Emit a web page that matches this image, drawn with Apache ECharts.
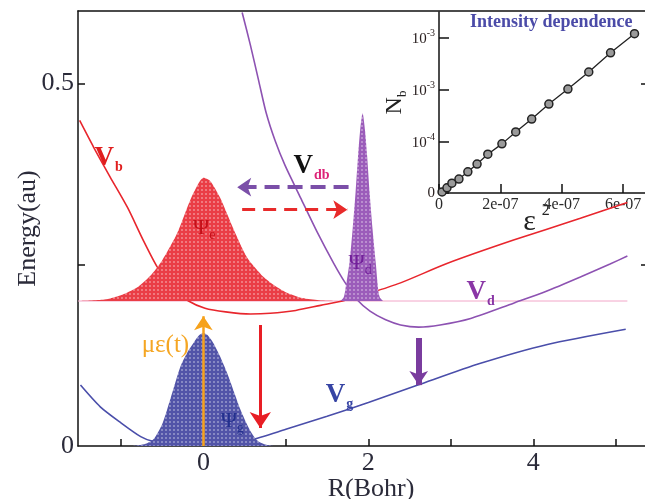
<!DOCTYPE html>
<html>
<head>
<meta charset="utf-8">
<script src="https://cdn.jsdelivr.net/npm/echarts@6/dist/echarts.min.js"></script>
<style>
  html, body { margin: 0; padding: 0; background: #fff; }
  #chart { width: 645px; height: 499px; }
</style>
</head>
<body>
<div id="chart"></div>
<script>
const FONT = 'Liberation Serif'
const INK = '#2b2b3a'

// potential curves, [R (Bohr), E (au)]
const vb = [[-1.50, 0.449], [-1.33, 0.412], [-1.13, 0.371], [-0.92, 0.329], [-0.73, 0.284], [-0.56, 0.247],
  [-0.38, 0.218], [-0.18, 0.200], [0.02, 0.190], [0.27, 0.185], [0.57, 0.182], [0.81, 0.183], [1.12, 0.187],
  [1.42, 0.194], [1.72, 0.201], [2.02, 0.211], [2.39, 0.225], [2.96, 0.252], [3.76, 0.284], [4.57, 0.314], [5.14, 0.336]]
const vd = [[0.47, 0.598], [0.57, 0.553], [0.67, 0.504], [0.76, 0.460], [0.87, 0.421], [0.99, 0.387],
  [1.18, 0.342], [1.38, 0.295], [1.58, 0.252], [1.72, 0.225], [1.87, 0.201], [2.02, 0.186], [2.21, 0.174],
  [2.39, 0.167], [2.61, 0.164], [2.87, 0.167], [3.24, 0.176], [3.76, 0.197], [4.15, 0.213], [4.57, 0.233],
  [4.93, 0.251], [5.14, 0.262]]
const vg = [[-1.49, 0.084], [-1.25, 0.054], [-1.00, 0.032], [-0.76, 0.013], [-0.60, 0.006], [-0.30, 0.002],
  [0.00, 0.001], [0.30, 0.003], [0.57, 0.008], [1.00, 0.023], [1.50, 0.041], [2.00, 0.060], [2.60, 0.084],
  [3.36, 0.114], [4.17, 0.140], [5.12, 0.161]]
const level = [[-1.52, 0.2], [5.14, 0.2]]

// wave packets
const psiE = [[-1.50, 0.200], [-1.20, 0.202], [-1.00, 0.208], [-0.80, 0.219], [-0.65, 0.234], [-0.50, 0.256],
  [-0.32, 0.293], [-0.16, 0.339], [-0.06, 0.362], [0.00, 0.370], [0.08, 0.366], [0.20, 0.343], [0.37, 0.298],
  [0.53, 0.260], [0.73, 0.233], [0.88, 0.220], [1.02, 0.211], [1.20, 0.204], [1.40, 0.201], [1.60, 0.200]]
const psiD = [[1.66, 0.200], [1.70, 0.205], [1.72, 0.215], [1.77, 0.252], [1.81, 0.300], [1.845, 0.350],
  [1.875, 0.400], [1.90, 0.435], [1.93, 0.459], [1.96, 0.435], [1.985, 0.400], [2.015, 0.350], [2.05, 0.300],
  [2.09, 0.252], [2.12, 0.215], [2.14, 0.205], [2.18, 0.200]]
const psiG = [[-0.85, 0.000], [-0.70, 0.003], [-0.60, 0.010], [-0.50, 0.030], [-0.44, 0.050], [-0.36, 0.080],
  [-0.28, 0.109], [-0.20, 0.128], [-0.12, 0.142], [-0.05, 0.153], [0.00, 0.156], [0.05, 0.153], [0.12, 0.142],
  [0.20, 0.124], [0.29, 0.100], [0.37, 0.075], [0.45, 0.050], [0.55, 0.025], [0.65, 0.008], [0.75, 0.002], [0.85, 0.000]]

// transitions
const pump = [[0, 0], [0, 0.179]]
const dumpB = [[0.69, 0.167], [0.69, 0.025]]
const dumpD = [[2.61, 0.149], [2.61, 0.084]]
const couplingDB = [[1.76, 0.357], [0.41, 0.357]]
const couplingBD = [[0.47, 0.326], [1.745, 0.326]]

const xTicks = [-1, 0, 1, 2, 3, 4, 5]
const xLabels = [0, 2, 4]
const yTicks = [0.25, 0.5]
const yLabels = [0, 0.5]

// inset: N_b against eps^2
const insetX = [1.0e-8, 2.6e-8, 4.2e-8, 6.5e-8, 9.4e-8, 1.24e-7, 1.59e-7, 2.05e-7, 2.50e-7, 3.02e-7,
  3.58e-7, 4.20e-7, 4.88e-7, 5.59e-7, 6.37e-7]
const insetY = [0.02, 0.10, 0.19, 0.27, 0.41, 0.56, 0.75, 0.95, 1.18, 1.43, 1.72, 2.01, 2.34, 2.71, 3.08]
const insetXTicks = [0, 2e-7, 4e-7, 6e-7]
const insetXLabels = ['0', '2e-07', '4e-07', '6e-07']
const insetYTicks = [0, 1, 2, 3]
const insetYLabels = ['0', '{m|10}{p|-4}', '{m|10}{p|-3}', '{m|10}{p|-3}']

// label anchors in data space
const notes = [
  { at: [-1.15, 0.397], big: 'V', small: 'b', c1: '#e01e1e', c2: '#e01e1e', kind: 'v' },
  { at: [1.31, 0.386], big: 'V', small: 'db', c1: '#111', c2: '#dd2277', kind: 'v' },
  { at: [3.36, 0.212], big: 'V', small: 'd', c1: '#8a36a6', c2: '#8a36a6', kind: 'v' },
  { at: [1.65, 0.070], big: 'V', small: 'g', c1: '#3644a4', c2: '#3644a4', kind: 'v' },
  { at: [0.01, 0.300], big: 'Ψ', small: 'e', c1: '#c40f18', c2: '#c40f18', kind: 'p' },
  { at: [1.90, 0.252], big: 'Ψ', small: 'd', c1: '#72209a', c2: '#72209a', kind: 'p' },
  { at: [0.35, 0.034], big: 'Ψ', small: 'g', c1: '#23308e', c2: '#23308e', kind: 'p' },
  { at: [-0.46, 0.139], big: 'με(t)', small: '', c1: '#f5a623', c2: '#f5a623', kind: 'm' }
]

function dots(color) {
  const c = document.createElement('canvas')
  c.width = 4
  c.height = 4
  const g = c.getContext('2d')
  g.fillStyle = color
  g.fillRect(0, 0, 4, 4)
  g.fillStyle = 'rgba(255,255,255,0.7)'
  g.beginPath()
  g.arc(2, 2, 0.8, 0, Math.PI * 2)
  g.fill()
  return { image: c, repeat: 'repeat' }
}

function curve(data, color) {
  return { type: 'line', data, symbol: 'none', smooth: 0.25, z: 2,
    lineStyle: { color, width: 1.6 } }
}

function packet(data, color, origin) {
  return { type: 'line', data, symbol: 'none', smooth: 0.25, z: 3,
    lineStyle: { width: 0 }, areaStyle: { color: dots(color), origin, opacity: 1 } }
}

function arrow(coords, color, width, head, dash) {
  return { type: 'lines', coordinateSystem: 'cartesian2d', z: 6,
    symbol: ['none', 'arrow'], symbolSize: head,
    lineStyle: { color, width, type: dash || 'solid', opacity: 1 },
    data: [{ coords }] }
}

function noteLabel(n) {
  const rich = n.kind === 'v' ? {
    a: { fontFamily: FONT, fontWeight: 'bold', fontSize: 27, lineHeight: 28, color: n.c1, verticalAlign: 'top' },
    b: { fontFamily: FONT, fontWeight: 'bold', fontSize: 14, lineHeight: 14, color: n.c2, verticalAlign: 'top', padding: [16, 0, 0, 1] }
  } : n.kind === 'p' ? {
    a: { fontFamily: FONT, fontSize: 22, lineHeight: 22, color: n.c1, verticalAlign: 'top' },
    b: { fontFamily: FONT, fontSize: 14, lineHeight: 14, color: n.c2, verticalAlign: 'top', padding: [11, 0, 0, 0] }
  } : {
    a: { fontFamily: FONT, fontSize: 25, lineHeight: 26, color: n.c1 },
    b: { fontSize: 1 }
  }
  return { show: true, position: 'inside', opacity: 1,
    formatter: n.small ? `{a|${n.big}}{b|${n.small}}` : `{a|${n.big}}`, rich }
}

const chart = echarts.init(document.getElementById('chart'))

const frame = { color: '#111', width: 1.5 }

chart.setOption({
  animation: false,
  backgroundColor: '#fff',
  title: {
    text: 'Intensity dependence', left: 470, top: 13, padding: 0,
    textStyle: { fontFamily: FONT, fontWeight: 'bold', fontSize: 18, color: '#4b4ba8' }
  },
  grid: [
    { left: 78, right: -3, top: 11, bottom: 53, outerBoundsMode: 'none', containLabel: false },
    { left: 439, right: -3, top: 12, bottom: 306, outerBoundsMode: 'none', containLabel: false }
  ],
  xAxis: [
    {
      gridIndex: 0, type: 'value', min: -1.52, max: 5.39, position: 'bottom',
      axisLine: { onZero: false, lineStyle: frame },
      axisTick: { inside: true, length: 7, customValues: xTicks, lineStyle: frame },
      axisLabel: { customValues: xLabels, margin: 4, fontFamily: FONT, fontSize: 26, color: INK },
      splitLine: { show: false },
      name: 'R(Bohr)', nameLocation: 'middle', nameGap: 30, nameMoveOverlap: false,
      nameTextStyle: { fontFamily: FONT, fontSize: 26, color: INK, padding: [0, 0, 0, 16] }
    },
    {
      gridIndex: 0, type: 'value', min: -1.52, max: 5.39, position: 'top',
      axisLine: { onZero: false, lineStyle: frame },
      axisTick: { show: false }, axisLabel: { show: false }, splitLine: { show: false }
    },
    {
      gridIndex: 1, type: 'value', min: 0, max: 6.81e-7,
      axisLine: { onZero: false, lineStyle: frame },
      axisTick: { inside: true, length: 9, customValues: insetXTicks, lineStyle: frame },
      axisLabel: {
        customValues: insetXTicks, margin: 4, fontFamily: FONT, fontSize: 16, color: '#2a2a2a',
        formatter: (v) => insetXLabels[insetXTicks.findIndex((t) => Math.abs(t - v) < 1e-9)]
      },
      splitLine: { show: false },
      name: '{e|ε}{s|2}', nameLocation: 'middle', nameGap: 10, nameMoveOverlap: false,
      nameTextStyle: {
        padding: [0, 14, 0, 0],
        rich: {
          e: { fontFamily: FONT, fontSize: 30, lineHeight: 30, color: '#222', verticalAlign: 'top', padding: [4, 0, 0, 0] },
          s: { fontFamily: FONT, fontSize: 16, lineHeight: 16, color: '#222', verticalAlign: 'top', padding: [0, 0, 0, 6] }
        }
      }
    }
  ],
  yAxis: [
    {
      gridIndex: 0, type: 'value', min: 0, max: 0.6,
      axisLine: { show: true, onZero: false, lineStyle: frame },
      axisTick: { show: true, inside: true, length: 7, customValues: yTicks, lineStyle: frame },
      axisLabel: { customValues: yLabels, margin: 4, fontFamily: FONT, fontSize: 26, color: INK },
      splitLine: { show: false },
      name: 'Energy(au)', nameLocation: 'middle', nameGap: 37, nameMoveOverlap: false,
      nameTextStyle: { fontFamily: FONT, fontSize: 26, color: INK }
    },
    {
      gridIndex: 0, type: 'value', min: 0, max: 0.6, position: 'right',
      axisLine: { show: true, onZero: false, lineStyle: frame },
      axisTick: { show: true, inside: true, length: 7, customValues: yTicks, lineStyle: frame },
      axisLabel: { show: false }, splitLine: { show: false }
    },
    {
      gridIndex: 1, type: 'value', min: 0, max: 3.5,
      axisLine: { show: true, onZero: false, lineStyle: frame },
      axisTick: { show: true, inside: true, length: 10, customValues: insetYTicks, lineStyle: frame },
      axisLabel: {
        customValues: insetYTicks, margin: 4, color: '#2a2020',
        formatter: (v) => insetYLabels[insetYTicks.indexOf(v)],
        rich: {
          m: { fontFamily: FONT, fontSize: 15, lineHeight: 18, color: '#2a2020', verticalAlign: 'bottom' },
          p: { fontFamily: FONT, fontSize: 10, lineHeight: 10, color: '#2a2020', verticalAlign: 'top' }
        },
        fontFamily: FONT, fontSize: 15
      },
      splitLine: { show: false },
      name: '{n|N}{b|b}', nameLocation: 'middle', nameGap: 32, nameRotate: 90, nameMoveOverlap: false,
      nameTextStyle: {
        rich: {
          n: { fontFamily: FONT, fontSize: 24, lineHeight: 24, color: '#222', verticalAlign: 'top' },
          b: { fontFamily: FONT, fontSize: 13, lineHeight: 13, color: '#222', verticalAlign: 'top', padding: [13, 0, 0, 0] }
        }
      }
    }
  ],
  series: [
    { type: 'line', data: level, symbol: 'none', z: 1, lineStyle: { color: '#f2a6c8', width: 1 } },
    curve(vb, '#e8262d'),
    curve(vd, '#8d52b2'),
    curve(vg, '#4a4eaa'),
    packet(psiE, '#ea3d46', 0.2),
    packet(psiD, '#9b5cba', 0.2),
    packet(psiG, '#5254a8', 0),
    arrow(pump, '#f6a21c', 2.5, [13, 14]),
    arrow(dumpB, '#e81e25', 3, [13, 16]),
    arrow(dumpD, '#7a3c9e', 6, [16, 14]),
    arrow(couplingDB, '#7b4fa8', 4, [14, 14], [15, 8]),
    arrow(couplingBD, '#e82a2a', 3, [13, 14], [13, 8]),
    {
      type: 'scatter', symbolSize: 0, z: 8, silent: true,
      itemStyle: { opacity: 1 },
      data: notes.map((n) => ({ value: n.at, label: noteLabel(n) }))
    },
    {
      type: 'line', xAxisIndex: 2, yAxisIndex: 2, z: 4,
      data: insetX.map((x, i) => [x, insetY[i]]),
      symbol: 'circle', symbolSize: 8,
      lineStyle: { color: '#222', width: 1.3 },
      itemStyle: { color: '#9a9a9a', borderColor: '#222', borderWidth: 1.5 }
    }
  ]
})
</script>
</body>
</html>
